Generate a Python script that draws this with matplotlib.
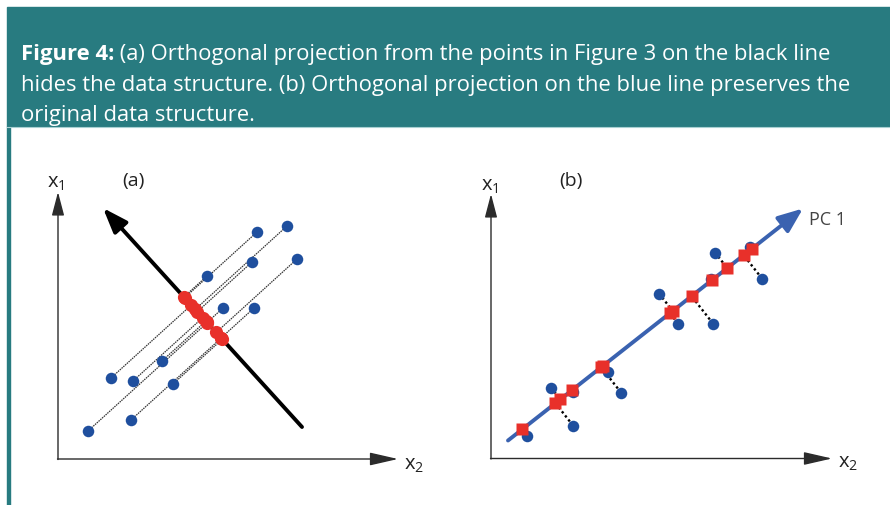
import numpy as np
import matplotlib
matplotlib.use("Agg")
import matplotlib.pyplot as plt
from matplotlib.patches import Rectangle
from matplotlib.lines import Line2D

W, H = 890, 506
TEAL = "#287b80"
FONT = "Open Sans"

plt.rcParams["font.family"] = [FONT, "DejaVu Sans"]
plt.rcParams["mathtext.fontset"] = "custom"
plt.rcParams["mathtext.rm"] = FONT
plt.rcParams["mathtext.default"] = "regular"

caption_bold = "Figure 4:"
caption_lines = [
    " (a) Orthogonal projection from the points in Figure 3 on the black line",
    "hides the data structure. (b) Orthogonal projection on the blue line preserves the",
    "original data structure.",
]

# (a) observations in the (x2, x1) plane and the black projection axis
a_x2 = [19.9, 22.9, 19.4, 23.9, 14.9, 16.5, 19.6, 10.4, 5.3, 7.5, 11.5, 7.3, 3.0]
a_x1 = [22.7, 23.3, 19.7, 20.0, 18.3, 15.1, 15.1, 9.8, 8.1, 7.8, 7.5, 3.9, 2.8]
a_axis_x2 = [24.4, 4.5]
a_axis_x1 = [3.2, 25.1]

# (b) observations and the first principal component
b_x2 = [3.6, 6.0, 8.2, 8.2, 11.7, 13.0, 16.8, 18.7, 22.2, 22.0, 22.4, 25.9, 27.1]
b_x1 = [2.3, 7.1, 3.3, 6.7, 8.7, 6.6, 16.5, 13.5, 13.5, 18.0, 20.6, 21.2, 18.0]
pc1_x2 = [1.7, 31.2]
pc1_x1 = [1.8, 25.0]


def fx(px):
    return px / W


def fy(py):
    return 1 - py / H


def project(x, y, lx, ly):
    """Orthogonal projection of points (x, y) onto the line through lx, ly."""
    p = np.column_stack([x, y])
    p0 = np.array([lx[0], ly[0]])
    d = np.array([lx[1] - lx[0], ly[1] - ly[0]])
    d = d / np.linalg.norm(d)
    t = (p - p0) @ d
    return p0 + t[:, None] * d


def draw_axes(ax, x_end, y_end):
    kw = dict(color="#2b2b2b", lw=1.0, shrinkA=0, shrinkB=0, mutation_scale=10)
    ax.annotate("", xy=(0, y_end), xytext=(0, -0.05),
                arrowprops=dict(arrowstyle="-|>,head_length=1.45,head_width=0.38", **kw))
    ax.annotate("", xy=(x_end, 0), xytext=(-0.05, 0),
                arrowprops=dict(arrowstyle="-|>,head_length=1.75,head_width=0.4", **kw))


fig = plt.figure(figsize=(W / 100, H / 100), dpi=100)

# caption band
fig.patches.append(Rectangle((fx(7), fy(127)), 1 - fx(7), (127 - 8) / H,
                             transform=fig.transFigure, color=TEAL, zorder=0))
fig.patches.append(Rectangle((fx(7), 0), 3 / W, fy(127),
                             transform=fig.transFigure, color=TEAL, zorder=0))
fig.lines.append(Line2D([fx(7), 1], [fy(127.5)] * 2, transform=fig.transFigure,
                        color="#a8d0d2", lw=0.8))

fs = 15.8
t0 = fig.text(fx(21), fy(60), caption_bold, color="white", fontsize=fs,
              fontweight="bold", va="baseline")
fig.canvas.draw()
bb = t0.get_window_extent()
fig.text(bb.x1 / W, fy(60), caption_lines[0], color="white", fontsize=fs, va="baseline")
fig.text(fx(21), fy(90.5), caption_lines[1], color="white", fontsize=fs, va="baseline")
fig.text(fx(21), fy(120.5), caption_lines[2], color="white", fontsize=fs, va="baseline")

# ---- panel (a)
ax = fig.add_axes([fx(38), fy(490), 420 / W, 350 / H])
ax.set_xlim(-2, 40)
ax.set_ylim(-3, 32)
ax.axis("off")
draw_axes(ax, 34.0, 26.7)

pa = project(a_x2, a_x1, a_axis_x2, a_axis_x1)
for x, y, (qx, qy) in zip(a_x2, a_x1, pa):
    ax.plot([x, qx], [y, qy], color="#333333", lw=0.9, ls=(0, (1.2, 0.7)), zorder=1)
ax.annotate("", xy=(a_axis_x2[1], a_axis_x1[1]), xytext=(a_axis_x2[0], a_axis_x1[0]),
            arrowprops=dict(arrowstyle="-|>,head_length=1.5,head_width=0.55",
                            color="black", lw=2.8, shrinkA=0, shrinkB=0,
                            mutation_scale=10), zorder=2)
ax.plot(a_x2, a_x1, "o", color="#1f4f9e", ms=8.3, mec="none", zorder=3)
ax.plot(pa[:, 0], pa[:, 1], "o", color="#e8302a", ms=9.5, mec="none", zorder=4)

fig.text(fx(47), fy(188), "x$_1$", fontsize=14.5, color="#222222", va="baseline")
fig.text(fx(122), fy(186), "(a)", fontsize=14, color="#222222", va="baseline")
fig.text(fx(404), fy(470), "x$_2$", fontsize=14.5, color="#222222", va="baseline")

# ---- panel (b)
bx = fig.add_axes([fx(461), fy(489.5), 420 / W, 350 / H])
bx.set_xlim(-3, 39)
bx.set_ylim(-3, 32)
bx.axis("off")
draw_axes(bx, 34.1, 26.45)

pb = project(b_x2, b_x1, pc1_x2, pc1_x1)
for x, y, (qx, qy) in zip(b_x2, b_x1, pb):
    bx.plot([x, qx], [y, qy], color="black", lw=1.7, ls=(0, (1, 1.2)), zorder=1)
bx.plot(b_x2, b_x1, "o", color="#1f4f9e", ms=8.3, mec="none", zorder=2)
bx.annotate("", xy=(pc1_x2[1], pc1_x1[1]), xytext=(pc1_x2[0], pc1_x1[0]),
            arrowprops=dict(arrowstyle="-|>,head_length=1.5,head_width=0.6",
                            color="#3a62b0", lw=2.8, shrinkA=0, shrinkB=0,
                            mutation_scale=10), zorder=3)
bx.plot(pb[:, 0], pb[:, 1], "s", color="#e8302a", ms=8.3, mec="none", zorder=4)

fig.text(fx(481), fy(191), "x$_1$", fontsize=14.5, color="#222222", va="baseline")
fig.text(fx(559), fy(186), "(b)", fontsize=14, color="#222222", va="baseline")
fig.text(fx(838), fy(468), "x$_2$", fontsize=14.5, color="#222222", va="baseline")
fig.text(fx(809), fy(225), "PC 1", fontsize=13, color="#444444", va="baseline")

fig.savefig("out.png", dpi=100)
